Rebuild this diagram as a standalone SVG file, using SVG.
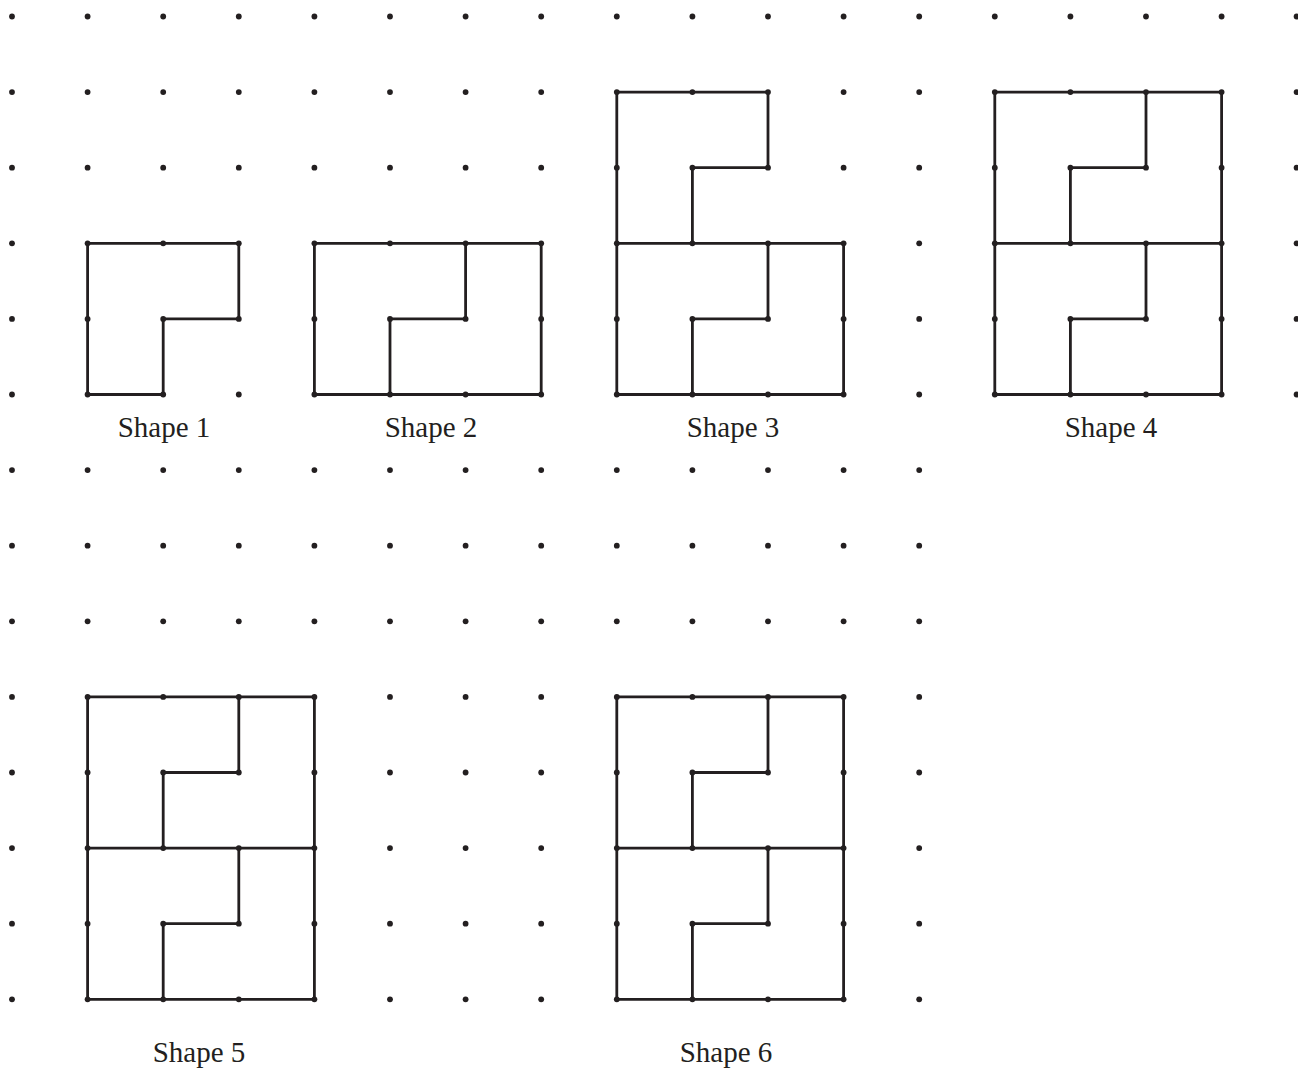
<svg xmlns="http://www.w3.org/2000/svg" width="1298" height="1068" viewBox="0 0 1298 1068">
  <style>
    .ln { fill: none; stroke: #231f20; stroke-width: 2.8; stroke-linejoin: miter; }
    .dt { fill: #231f20; }
    .lbl { font-family: "Liberation Serif", "Times New Roman", serif; font-size: 29px; fill: #231f20; text-anchor: middle; }
  </style>
  <defs>
    <circle id="d" class="dt" cx="0" cy="0" r="2.9"/>
    <g id="row13">
      <use href="#d" x="12"/><use href="#d" x="87.6"/><use href="#d" x="163.2"/><use href="#d" x="238.8"/>
      <use href="#d" x="314.4"/><use href="#d" x="390"/><use href="#d" x="465.6"/><use href="#d" x="541.2"/>
      <use href="#d" x="616.8"/><use href="#d" x="692.4"/><use href="#d" x="768"/><use href="#d" x="843.6"/>
      <use href="#d" x="919.2"/>
    </g>
    <g id="row18">
      <use href="#row13"/>
      <use href="#d" x="994.8"/><use href="#d" x="1070.4"/><use href="#d" x="1146"/><use href="#d" x="1221.6"/>
      <use href="#d" x="1296.6"/>
    </g>
    <path id="double" class="ln" d="M0,0 H226.8 V302.4 H0 Z M0,151.2 H226.8 M151.2,0 V75.6 H75.6 V151.2 M151.2,151.2 V226.8 H75.6 V302.4"/>
  </defs>
  <rect width="1298" height="1068" fill="#ffffff"/>

  <g id="connectors">
    <g id="shape1-lines">
      <path class="ln" d="M87.6,243.3 H238.8 V318.9 H163.2 V394.5 H87.6 Z"/>
    </g>
    <g id="shape2-lines">
      <path class="ln" d="M314.4,243.3 H541.2 V394.5 H314.4 Z M465.6,243.3 V318.9 H390 V394.5"/>
    </g>
    <g id="shape3-lines">
      <path class="ln" d="M616.8,92.1 H768 V167.7 H692.4 V243.3 H843.6 V394.5 H616.8 Z M616.8,243.3 H692.4 M768,243.3 V318.9 H692.4 V394.5"/>
    </g>
    <g id="shape4-lines"><use href="#double" x="994.8" y="92.1"/></g>
    <g id="shape5-lines"><use href="#double" x="87.6" y="696.9"/></g>
    <g id="shape6-lines"><use href="#double" x="616.8" y="696.9"/></g>
  </g>

  <g id="dot-grid">
    <use href="#row18" y="16.5"/>
    <use href="#row18" y="92.1"/>
    <use href="#row18" y="167.7"/>
    <use href="#row18" y="243.3"/>
    <use href="#row18" y="318.9"/>
    <use href="#row18" y="394.5"/>
    <use href="#row13" y="470.1"/>
    <use href="#row13" y="545.7"/>
    <use href="#row13" y="621.3"/>
    <use href="#row13" y="696.9"/>
    <use href="#row13" y="772.5"/>
    <use href="#row13" y="848.1"/>
    <use href="#row13" y="923.7"/>
    <use href="#row13" y="999.3"/>
  </g>

  <g id="shape1"><text class="lbl" x="164" y="437">Shape 1</text></g>
  <g id="shape2"><text class="lbl" x="431" y="437">Shape 2</text></g>
  <g id="shape3"><text class="lbl" x="733" y="437">Shape 3</text></g>
  <g id="shape4"><text class="lbl" x="1111" y="437">Shape 4</text></g>
  <g id="shape5"><text class="lbl" x="199" y="1062">Shape 5</text></g>
  <g id="shape6"><text class="lbl" x="726" y="1062">Shape 6</text></g>
</svg>
